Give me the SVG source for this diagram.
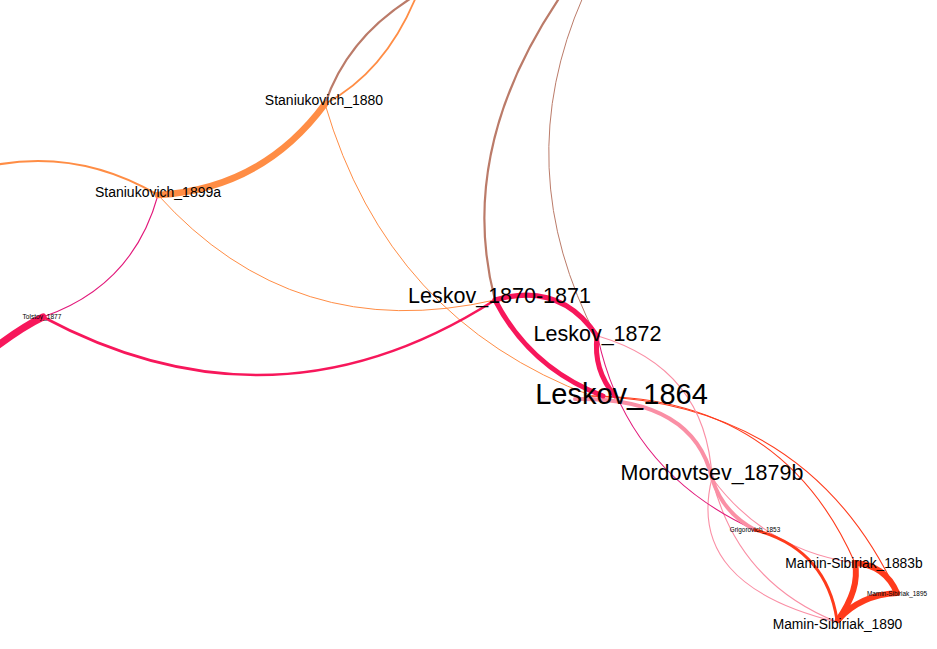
<svg xmlns="http://www.w3.org/2000/svg" width="937" height="649" viewBox="0 0 937 649">
<style>
.e{fill:none;stroke-linecap:round}
.brown{stroke:#bb7b69}
.orange{stroke:#ff8d45}
.red{stroke:#f7175b}
.pink{stroke:#fa8fa5}
.mag{stroke:#e2187a}
.ro{stroke:#ff3b1c}
text{font-family:"Liberation Sans",Arial,sans-serif;fill:#000;text-anchor:middle}
</style>
<rect width="937" height="649" fill="#fff"/>
<g id="edges">
<path class="e brown" stroke-width="2.2" d="M325,104 Q347,38 413,-3"/>
<path class="e orange" stroke-width="1.8" d="M325,104 Q385,72 416,-3"/>
<path class="e orange" stroke-width="1" d="M325,104 Q388,320 592,396"/>
<path class="e orange" stroke-width="2.2" d="M158,195 Q78,148 -10,166"/>
<path class="e mag" stroke-width="1.1" d="M158,195 Q133,286 43,317"/>
<path class="e orange" stroke-width="1" d="M158,195 Q294,346 495,300"/>
<path class="e red" stroke-width="2.6" d="M43,317 Q275,441 495,300"/>
<path class="e red" stroke-width="7" d="M43,317 Q20,328 -12,353"/>
<path class="e orange" stroke-width="6.5" d="M325,104 Q262,189 158,195"/>
<path class="e brown" stroke-width="2.2" d="M495,300 Q456,151 560,-3"/>
<path class="e brown" stroke-width="1" d="M597,338 Q508,168 583,-3"/>
<path class="e ro" stroke-width="1.1" d="M592,396 Q782,397 855,563"/>
<path class="e ro" stroke-width="1.1" d="M592,396 Q809,404 897,593"/>
<path class="e pink" stroke-width="1.2" d="M598,336 Q706,368 712,478"/>
<path class="e pink" stroke-width="1.1" d="M712,478 Q765,550 855,563"/>
<path class="e pink" stroke-width="1.1" d="M712,478 Q737,582 837,622"/>
<path class="e pink" stroke-width="1.1" d="M712,478 Q685,585 837,622"/>
<path class="e mag" stroke-width="1.1" d="M598,338 Q627,472 755,530"/>
<path class="e pink" stroke-width="4" d="M575,399 Q693,397 712,478"/>
<path class="e pink" stroke-width="4" d="M712,478 Q722,512 755,530"/>
<path class="e red" stroke-width="5" d="M495,300 Q530,368 603,396"/>
<path class="e red" stroke-width="5" d="M495,300 Q560,281 597,336"/>
<path class="e red" stroke-width="5" d="M597,336 Q593,370 615,396"/>
<path class="e ro" stroke-width="3" d="M755,530 Q826,549 837,620"/>
<path class="e ro" stroke-width="6" d="M855,563 Q885,565 897,593"/>
<path class="e ro" stroke-width="6" d="M855,563 Q860,589 838,620"/>
<path class="e ro" stroke-width="6" d="M897,593 Q860,595 838,620"/>
</g>
<g id="node-Staniukovich_1880"><text x="324" y="105" font-size="14">Staniukovich_1880</text></g>
<g id="node-Staniukovich_1899a"><text x="158" y="197" font-size="14">Staniukovich_1899a</text></g>
<g id="node-Tolstoy_1877"><text x="42" y="318.5" font-size="6.6" fill="#222">Tolstoy_1877</text></g>
<g id="node-Leskov_1870-1871"><text x="499.5" y="302.5" font-size="21.5">Leskov_1870-1871</text></g>
<g id="node-Leskov_1872"><text x="597.5" y="341" font-size="21.5">Leskov_1872</text></g>
<g id="node-Leskov_1864"><text x="621.5" y="404" font-size="29">Leskov_1864</text></g>
<g id="node-Mordovtsev_1879b"><text x="712" y="480" font-size="21.5">Mordovtsev_1879b</text></g>
<g id="node-Grigorovich_1853"><text x="755" y="532" font-size="6.4" fill="#222">Grigorovich_1853</text></g>
<g id="node-Mamin-Sibiriak_1883b"><text x="854" y="568" font-size="13.8">Mamin-Sibiriak_1883b</text></g>
<g id="node-Mamin-Sibiriak_1895"><text x="897" y="595.5" font-size="6.4" fill="#222">Mamin-Sibiriak_1895</text></g>
<g id="node-Mamin-Sibiriak_1890"><text x="837.5" y="629" font-size="13.8">Mamin-Sibiriak_1890</text></g>
</svg>
